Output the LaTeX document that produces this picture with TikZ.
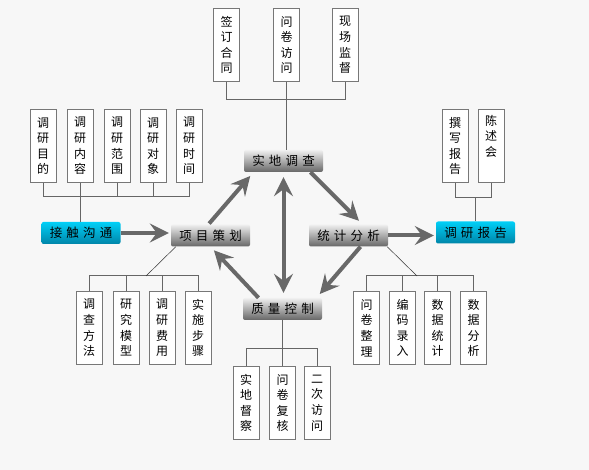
\documentclass[tikz,border=0pt]{standalone}
\usepackage{fontspec}
\setmainfont{Noto Sans CJK SC}
\usepackage{tikz}
\usetikzlibrary{arrows.meta}
\definecolor{bg}{HTML}{F7F7F7}
\definecolor{boxline}{HTML}{777777}
\definecolor{wirec}{HTML}{666666}
\definecolor{flowgray}{HTML}{686868}
\definecolor{cyantop}{HTML}{00CFF7}
\definecolor{cyanbot}{HTML}{0085A8}

\begin{document}
\begin{tikzpicture}[x=1pt,y=-1pt,
  bigtip/.tip={Stealth[length=19pt,width=19pt,inset=7pt]},
  stage/.style={rounded corners=2pt, minimum width=79pt, minimum height=22pt, inner sep=0pt,
    top color=white!94!black, bottom color=black!60, font=\fontsize{12.5}{14}\selectfont},
  goal/.style={stage, top color=cyantop, bottom color=cyanbot},
  itembox/.style={draw=boxline, line width=0.9pt, fill=white, anchor=north, minimum width=26pt,
    minimum height=73pt, inner sep=0pt, align=center, font=\fontsize{12}{15.6}\selectfont},
  wire/.style={draw=wirec, line width=1pt},
  flow/.style={draw=flowgray, line width=4pt, -bigtip},
  twoway/.style={draw=flowgray, line width=4pt, bigtip-bigtip},
]
  \fill[bg] (0,0) rectangle (589,470);
  \useasboundingbox (0,0) rectangle (589,470);

  % stages
  \node[goal] (jiechu) at (81,233) {接\,\,触\,\,沟\,\,通};
  \node[stage] (xiangmu) at (210.5,235.5) {项\,\,目\,\,策\,\,划};
  \node[stage] (shidi) at (283.5,161) {实\,\,地\,\,调\,\,查};
  \node[stage] (tongji) at (348.5,235.5) {统\,\,计\,\,分\,\,析};
  \node[stage] (zhiliang) at (282.5,309) {质\,\,量\,\,控\,\,制};
  \node[goal] (baogao) at (475.5,232.5) {调\,\,研\,\,报\,\,告};

  % boxes
  \node[itembox] (t1) at (226.5,8) {签\\订\\合\\同};
  \node[itembox] (t2) at (286.5,8) {问\\卷\\访\\问};
  \node[itembox] (t3) at (345,8) {现\\场\\监\\督};

  \node[itembox] (l1) at (43,109) {调\\研\\目\\的};
  \node[itembox] (l2) at (80,109) {调\\研\\内\\容};
  \node[itembox] (l3) at (117,109) {调\\研\\范\\围};
  \node[itembox] (l4) at (153,109) {调\\研\\对\\象};
  \node[itembox] (l5) at (189,109) {调\\研\\时\\间};

  \node[itembox] (p1) at (455,109) {撰\\写\\报\\告};
  \node[itembox] (p2) at (491,109) {陈\\述\\会\\\strut};

  \node[itembox] (b1) at (89,291) {调\\查\\方\\法};
  \node[itembox] (b2) at (126,291) {研\\究\\模\\型};
  \node[itembox] (b3) at (162,291) {调\\研\\费\\用};
  \node[itembox] (b4) at (198,291) {实\\施\\步\\骤};

  \node[itembox] (q1) at (246,366) {实\\地\\督\\察};
  \node[itembox] (q2) at (282.5,366) {问\\卷\\复\\核};
  \node[itembox] (q3) at (317,366) {二\\次\\访\\问};

  \node[itembox] (r1) at (366.5,291) {问\\卷\\整\\理};
  \node[itembox] (r2) at (402.5,291) {编\\码\\录\\入};
  \node[itembox] (r3) at (437.5,291) {数\\据\\统\\计};
  \node[itembox] (r4) at (473.5,291) {数\\据\\分\\析};

  % wires
  \coordinate (busT) at (0,100);
  \coordinate (busL) at (0,197);
  \coordinate (busP) at (0,198);
  \coordinate (busB) at (0,276);
  \coordinate (busQ) at (0,348);
  \coordinate (jB) at (146,276);
  \coordinate (jR) at (417,276);

  \draw[wire] (t1.south) |- (t3.south |- busT) -- (t3.south);
  \draw[wire] (t2.south) -- (t2.south |- shidi.north);

  \draw[wire] (l1.south) |- (l5.south |- busL) -- (l5.south);
  \foreach \n in {l3,l4} \draw[wire] (\n.south) -- (\n.south |- busL);
  \draw[wire] (l2.south) -- (l2.south |- jiechu.north);

  \draw[wire] (p1.south) |- (p2.south |- busP) -- (p2.south);
  \draw[wire] (baogao.north) -- (baogao.north |- busP);

  \draw[wire] (b1.north) |- (b4.north |- busB) -- (b4.north);
  \foreach \n in {b2,b3} \draw[wire] (\n.north) -- (\n.north |- busB);
  \draw[black!80, line width=0.5pt] (jB) -- ([xshift=5pt]xiangmu.south west);

  \draw[wire] (q1.north) |- (q3.north |- busQ) -- (q3.north);
  \draw[wire] (zhiliang.south) -- (q2.north);

  \draw[wire] (r1.north) |- (r4.north |- busB) -- (r4.north);
  \foreach \n in {r2,r3} \draw[wire] (\n.north) -- (\n.north |- busB);
  \draw[black!80, line width=0.5pt] (jR) -- ([xshift=-1pt]tongji.south east);

  % flow
  \draw[flow, shorten >=2pt] (jiechu.east) -- (jiechu.east -| xiangmu.west);
  \draw[flow, shorten >=2pt] (tongji.east) -- (tongji.east -| baogao.west);
  \draw[flow, shorten <=1pt, shorten >=5pt] ([xshift=-2pt]xiangmu.north) -- ([xshift=-30pt]shidi.south);
  \draw[flow, shorten >=5pt] ([xshift=27pt]shidi.south) -- ([xshift=14pt]tongji.north);
  \draw[flow, shorten >=5pt] ([xshift=12pt]tongji.south) -- ([xshift=34pt]zhiliang.north);
  \draw[flow, shorten >=5pt] ([xshift=-24pt]zhiliang.north) -- (xiangmu.south);
  \draw[twoway, shorten <=5pt, shorten >=5pt] (shidi.south) -- (shidi.south |- zhiliang.north);
\end{tikzpicture}
\end{document}
